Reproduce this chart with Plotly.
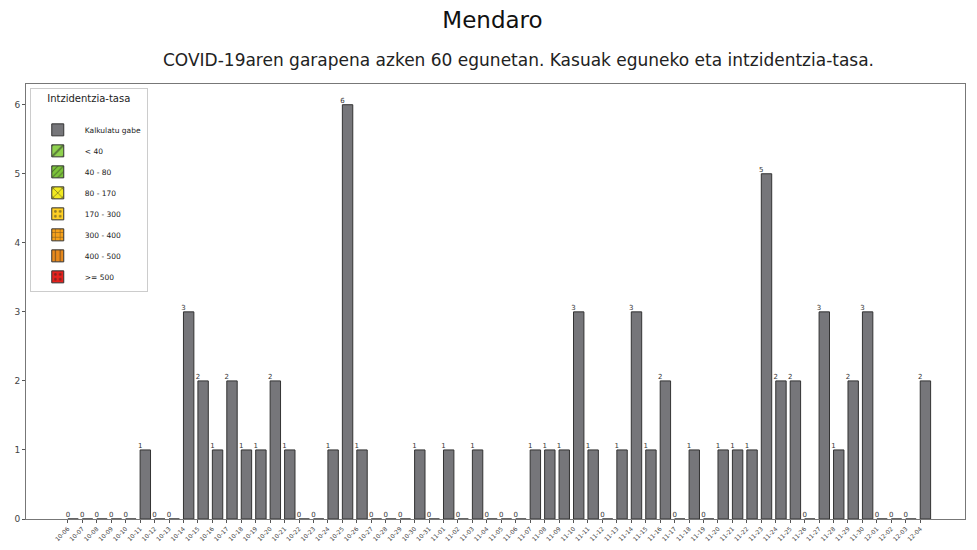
import plotly.graph_objects as go
import pandas as pd

# 60 days of data
dates = pd.date_range("2020-10-06", periods=60, freq="D")
date_labels = [d.strftime("%m-%d") for d in dates]
cases = [0, 0, 0, 0, 0, 1, 0, 0, 3, 2,
         1, 2, 1, 1, 2, 1, 0, 0, 1, 6,
         1, 0, 0, 0, 1, 0, 1, 0, 1, 0,
         0, 0, 1, 1, 1, 3, 1, 0, 1, 3,
         1, 2, 0, 1, 0, 1, 1, 1, 5, 2,
         2, 0, 3, 1, 2, 3, 0, 0, 0, 2]

legend_names = ["< 40", "40 - 80", "80 - 170", "170 - 300", "300 - 400", "400 - 500", ">= 500"]
legend_colors = ["#8fd14f", "#7cc43a", "#f2ea22", "#ffd024", "#f7a11a", "#ea8a1c", "#e5211d"]
legend_patterns = ["/", "/", "x", ".", "+", "|", "."]
legend_pattern_sizes = [10, 5, 8, 6, 6, 6, 6]

x = list(range(len(cases)))

fig = go.Figure()
fig.add_trace(go.Bar(
    x=x, y=cases, name="Kalkulatu gabe",
    width=0.72, offset=0,
    marker=dict(color="#76767a", line=dict(color="#333333", width=1)),
    legendgroup="g0",
))
for i, (n, c, p, s) in enumerate(zip(legend_names, legend_colors, legend_patterns, legend_pattern_sizes)):
    fig.add_trace(go.Bar(
        x=[None], y=[None], name=n,
        marker=dict(color=c, line=dict(color="#333333", width=1),
                    pattern=dict(shape=p, size=s, fgcolor="#222222", solidity=0.25)),
        legendgroup=f"g{i+1}",
    ))
fig.add_trace(go.Scatter(
    x=x, y=cases, mode="text", text=[str(v) for v in cases],
    textposition="top center", textfont=dict(size=7, color="#333333"),
    showlegend=False, hoverinfo="skip",
))

fig.update_layout(
    width=969, height=542,
    margin=dict(l=18, r=12, t=76, b=31, autoexpand=False),
    paper_bgcolor="white", plot_bgcolor="white",
    font=dict(family="DejaVu Sans", color="#222222"),
    barmode="overlay",
    title=dict(text="Mendaro", x=0.5, xanchor="center", y=0.978, yanchor="middle",
               font=dict(size=23, color="#111111")),
    annotations=[dict(text="COVID-19aren garapena azken 60 egunetan. Kasuak eguneko eta intzidentzia-tasa.",
                      xref="paper", yref="paper", x=0.524, y=1.0, yshift=24,
                      xanchor="center", yanchor="middle", showarrow=False,
                      font=dict(size=17, color="#222222"))],
    legend=dict(x=0.004, y=0.99, xanchor="left", yanchor="top",
                title=dict(text="Intzidentzia-tasa<br> ", font=dict(size=10), side="top center"),
                font=dict(size=7.5), bordercolor="#cccccc", borderwidth=1,
                bgcolor="white", tracegroupgap=2, itemwidth=44),
    showlegend=True,
)
fig.update_xaxes(
    range=[-2.9, 62.1], tickmode="array", tickvals=x, ticktext=date_labels,
    tickangle=-45, tickfont=dict(size=6, color="#444444"), automargin=False,
    ticks="outside", ticklen=3, tickcolor="#555555",
    showline=True, linecolor="#777777", linewidth=1, mirror=True, showgrid=False, zeroline=False,
)
fig.update_yaxes(
    range=[0, 6.3], tickvals=[0, 1, 2, 3, 4, 5, 6], automargin=False,
    tickfont=dict(size=9, color="#444444"),
    ticks="outside", ticklen=3, tickcolor="#555555",
    showline=True, linecolor="#777777", linewidth=1, mirror=True, showgrid=False, zeroline=False,
)

fig.write_html("out.html")
